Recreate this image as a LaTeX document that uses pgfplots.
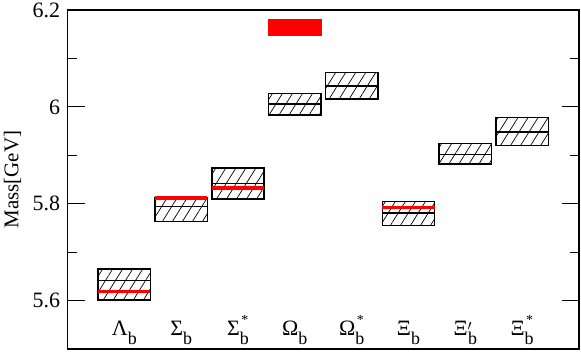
\documentclass[border=0pt]{standalone}
\usepackage{fontspec}
\setmainfont{Liberation Serif}
\usepackage{pgfplots}
\pgfplotsset{compat=1.18}
\usetikzlibrary{patterns.meta}
\newcommand{\cat}[2]{#1\rlap{\hspace{1.5pt}\raisebox{0.5em}{\fontsize{14}{14}\selectfont #2}}\raisebox{-0.42em}{\fontsize{18}{18}\selectfont b}}
\newcommand{\catp}[1]{#1\rlap{\raisebox{0.24em}{$\scriptstyle\prime$}}\hspace{0.5pt}\raisebox{-0.42em}{\fontsize{18}{18}\selectfont b}}
\begin{document}
\begin{tikzpicture}
\begin{axis}[
  scale only axis, width=511.5bp, height=339bp,
  xmin=0, xmax=9, ymin=5.5, ymax=6.2,
  xtick=\empty,
  ytick={5.6,5.8,6,6.2}, minor ytick={5.7,5.9,6.1},
  ytick pos=both, yticklabel pos=left,
  tick align=inside,
  major tick length=17bp, minor tick length=9bp,
  tick style={line width=1.1bp, black},
  axis line style={line width=1.6bp},
  yticklabel style={font=\fontsize{22}{26}\selectfont, anchor=east, xshift=-4bp},
  /pgf/number format/assume math mode=true,
  yticklabel={\pgfmathprintnumber{\tick}},
  ylabel={Mass[GeV]},
  ylabel style={font=\fontsize{21}{25}\selectfont, at={([xshift=-55bp]axis description cs:0,0.5)}, anchor=center},
  hatch/.style={draw=black, line width=1.4bp, pattern={Lines[angle=58,distance=8.5bp,line width=0.7bp]}},
  mid/.style={black, line width=1.4bp},
  exp/.style={red, line width=3.7bp},
]
% boxes
\addplot[hatch] coordinates {(0.54,5.601) (1.46,5.601) (1.46,5.665) (0.54,5.665)} -- cycle;
\addplot[hatch] coordinates {(1.54,5.763) (2.46,5.763) (2.46,5.813) (1.54,5.813)} -- cycle;
\addplot[hatch] coordinates {(2.54,5.810) (3.46,5.810) (3.46,5.874) (2.54,5.874)} -- cycle;
\addplot[hatch] coordinates {(3.54,5.983) (4.46,5.983) (4.46,6.028) (3.54,6.028)} -- cycle;
\addplot[hatch] coordinates {(4.54,6.016) (5.46,6.016) (5.46,6.071) (4.54,6.071)} -- cycle;
\addplot[hatch] coordinates {(5.54,5.755) (6.46,5.755) (6.46,5.805) (5.54,5.805)} -- cycle;
\addplot[hatch] coordinates {(6.54,5.882) (7.46,5.882) (7.46,5.924) (6.54,5.924)} -- cycle;
\addplot[hatch] coordinates {(7.54,5.920) (8.46,5.920) (8.46,5.978) (7.54,5.978)} -- cycle;
% central values
\addplot[mid] coordinates {(0.54,5.641) (1.46,5.641)};
\addplot[mid] coordinates {(1.54,5.794) (2.46,5.794)};
\addplot[mid] coordinates {(2.54,5.842) (3.46,5.842)};
\addplot[mid] coordinates {(3.54,6.006) (4.46,6.006)};
\addplot[mid] coordinates {(4.54,6.043) (5.46,6.043)};
\addplot[mid] coordinates {(5.54,5.781) (6.46,5.781)};
\addplot[mid] coordinates {(6.54,5.902) (7.46,5.902)};
\addplot[mid] coordinates {(7.54,5.948) (8.46,5.948)};
% experiment
\addplot[exp] coordinates {(0.54,5.619) (1.46,5.619)};
\addplot[exp] coordinates {(1.54,5.812) (2.46,5.812)};
\addplot[exp] coordinates {(2.54,5.833) (3.46,5.833)};
\addplot[exp] coordinates {(5.54,5.792) (6.46,5.792)};
\addplot[draw=red, fill=red, line width=0.4bp] coordinates {(3.54,6.147) (4.46,6.147) (4.46,6.181) (3.54,6.181)} -- cycle;
% category labels
\begin{scope}[every node/.style={anchor=base, font=\fontsize{22}{26}\selectfont, inner sep=0pt}]
\node at (axis cs:1,5.528) {\cat{Λ}{}};
\node at (axis cs:2,5.528) {\cat{Σ}{}};
\node at (axis cs:3,5.528) {\cat{Σ}{*}};
\node at (axis cs:4,5.528) {\cat{Ω}{}};
\node at (axis cs:5,5.528) {\cat{Ω}{*}};
\node at (axis cs:6,5.528) {\cat{Ξ}{}};
\node at (axis cs:7,5.528) {\catp{Ξ}};
\node at (axis cs:8,5.528) {\cat{Ξ}{*}};
\end{scope}
\end{axis}
\pgfresetboundingbox
\useasboundingbox ([shift={(-67.5bp,-4bp)}]current axis.south west) rectangle ([shift={(2bp,10bp)}]current axis.north east);
\end{tikzpicture}
\end{document}
